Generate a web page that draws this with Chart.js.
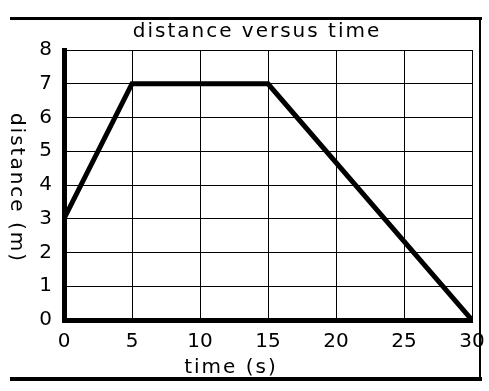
<!DOCTYPE html>
<html>
<head>
<meta charset="utf-8">
<script src="https://cdn.jsdelivr.net/npm/chart.js@4"></script>
<style>html,body{margin:0;padding:0;background:#fff}</style>
</head>
<body>
<canvas id="c" width="489" height="391"></canvas>
<script>
// values
const times = [0, 5, 15, 30];
const distances = [3, 7, 7, 0];
const xTicks = [0, 5, 10, 15, 20, 25, 30];
const yTicks = [0, 1, 2, 3, 4, 5, 6, 7, 8];
const chartTitle = 'distance versus time';
const xTitle = 'time (s)';
const yTitle = 'distance (m)';

const FONT = '"DejaVu Sans", sans-serif';

// frame + titles drawn by hand (y title reads top to bottom)
const decor = {
  id: 'decor',
  afterDraw(chart) {
    const ctx = chart.ctx, a = chart.chartArea;
    ctx.save();
    ctx.fillStyle = '#000';
    ctx.fillRect(10, 17, 472, 3);
    ctx.fillRect(479, 17, 2, 364);
    ctx.fillRect(10, 377, 472, 4);
    ctx.font = '20px ' + FONT;
    ctx.letterSpacing = '2px';
    ctx.textAlign = 'center';
    ctx.textBaseline = 'alphabetic';
    ctx.fillText(chartTitle, a.left + 193, 37);
    ctx.fillText(xTitle, a.left + 167, 373);
    ctx.translate(11, 188);
    ctx.rotate(Math.PI / 2);
    ctx.fillText(yTitle, 0, 0);
    ctx.restore();
  }
};

const tickFont = {family: FONT, size: 20};

new Chart(document.getElementById('c'), {
  type: 'scatter',
  data: {
    datasets: [{
      data: times.map((t, i) => ({x: t, y: distances[i]})),
      showLine: true,
      borderColor: '#000',
      borderWidth: 5,
      pointRadius: 0,
      tension: 0,
      borderCapStyle: 'square'
    }]
  },
  options: {
    responsive: false,
    animation: false,
    layout: {padding: {top: 50, right: 17, left: 0, bottom: 0}},
    plugins: {legend: {display: false}, tooltip: {enabled: false}},
    scales: {
      x: {
        type: 'linear', min: 0, max: 30,
        afterBuildTicks(s) { s.ticks = xTicks.map(v => ({value: v})); },
        afterFit(s) { s.height = 71; s.paddingLeft = 0; s.paddingRight = 0; },
        grid: {color: '#000', lineWidth: 1, drawTicks: false},
        border: {color: '#000', width: 5},
        ticks: {color: '#000', font: tickFont, padding: 10, maxRotation: 0}
      },
      y: {
        type: 'linear', min: 0, max: 8,
        afterBuildTicks(s) { s.ticks = yTicks.map(v => ({value: v})); },
        afterFit(s) { s.width = 64; s.paddingTop = 0; s.paddingBottom = 0; },
        grid: {color: '#000', lineWidth: 1, drawTicks: false},
        border: {color: '#000', width: 5},
        ticks: {color: '#000', font: tickFont, padding: 12}
      }
    }
  },
  plugins: [decor]
});
</script>
</body>
</html>
